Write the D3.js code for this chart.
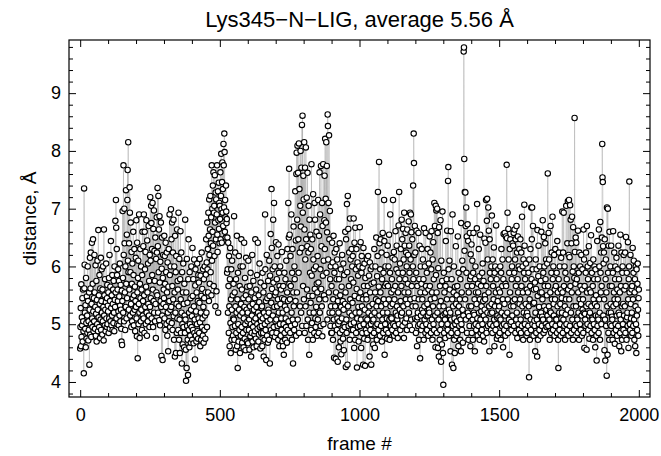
<!DOCTYPE html>
<html><head><meta charset="utf-8">
<script src="https://cdn.jsdelivr.net/npm/d3@7"></script>
<style>body{margin:0;background:#fff;} svg{display:block;} text{font-family:"Liberation Sans",Arial,sans-serif;fill:#000;}</style>
</head><body>
<svg id="chart" width="661" height="456"></svg>
<script>
const titleText = "Lys345\u2212N\u2212LIG, average 5.56 \u00C5";
const xLabel = "frame #";
const yLabel = "distance, \u00C5";
const xTicks = [0, 500, 1000, 1500, 2000];
const yTicks = [4, 5, 6, 7, 8, 9];

// distance (Å) per frame, frames 0-249
const dist0 = [4.58,4.95,5.28,4.62,5.69,4.78,5.12,4.98,5.45,4.70,5.60,5.05,4.88,4.15,7.35,5.62,6.03,5.20,4.92,5.33,4.60,5.80,5.02,4.75,5.48,
5.15,4.85,6.00,5.40,4.72,5.05,4.90,5.55,4.30,5.25,6.15,4.82,5.62,6.24,5.00,4.78,5.35,6.41,5.10,4.95,5.70,6.47,5.22,4.88,5.45,
5.05,6.20,5.55,4.92,5.30,6.02,4.80,5.18,5.75,4.70,5.42,5.00,6.10,5.25,4.88,6.63,5.12,5.50,4.95,5.85,5.35,4.76,5.62,5.08,6.15,
4.90,5.40,5.95,5.20,4.82,5.60,5.05,6.00,5.30,4.72,6.64,5.15,5.50,4.98,5.78,5.25,4.88,5.38,6.05,5.10,4.95,5.45,5.68,5.00,5.32,
5.22,5.55,4.85,5.80,5.10,6.20,4.92,5.40,5.65,5.05,6.44,5.28,4.98,5.50,5.15,5.85,4.90,5.35,5.60,5.02,5.75,5.20,4.88,6.00,5.42,
5.30,6.79,5.55,7.15,6.67,5.10,6.30,5.85,5.00,5.60,5.40,5.95,5.22,4.98,5.75,5.48,5.15,6.05,5.32,5.05,5.68,5.25,4.92,4.70,5.58,
4.64,5.40,6.96,5.80,5.20,7.75,6.20,5.05,7.00,6.40,5.55,4.90,6.00,5.30,7.32,5.70,5.10,6.55,5.45,7.15,7.67,6.10,8.15,5.90,5.25,
6.40,5.60,7.37,6.93,5.15,5.90,6.76,5.35,4.95,6.25,5.70,5.05,6.05,5.45,5.20,6.60,5.85,4.98,5.50,6.30,5.25,5.65,4.88,5.40,6.15,
5.30,6.80,5.10,4.79,6.41,5.55,4.41,5.80,6.10,5.00,5.35,6.90,5.20,4.76,5.70,6.30,5.45,5.05,6.00,5.25,5.60,4.90,5.85,6.60,5.15,
5.40,6.35,5.10,6.90,5.50,4.85,6.60,5.95,5.30,6.25,5.00,5.65,6.80,5.20,4.80,6.45,5.55,5.05,6.05,5.35,6.70,5.15,5.75,4.95,6.20];

// frames 250-499
const dist1 = [5.30,7.20,6.10,5.45,7.05,6.75,5.10,6.30,5.85,7.10,5.60,4.95,6.65,5.40,6.97,5.20,6.27,5.75,5.05,6.50,5.35,4.76,6.13,5.55,6.85,
6.24,5.50,7.36,6.35,5.20,7.22,5.90,6.64,5.07,6.87,5.72,4.98,6.08,5.40,6.76,5.30,4.45,5.96,6.50,5.15,4.38,5.80,6.20,5.35,5.60,
5.45,6.53,5.10,6.18,5.70,4.90,6.41,5.30,5.90,5.00,6.24,5.55,4.80,6.07,5.20,4.53,5.65,6.30,5.05,5.40,6.90,5.85,4.95,5.25,6.00,
6.99,5.30,6.47,5.02,6.76,5.66,4.90,6.24,5.43,6.81,5.14,4.73,6.00,5.55,4.44,6.53,5.20,5.90,4.50,6.18,5.35,4.85,6.64,5.10,5.75,
5.60,4.90,6.93,5.31,4.73,6.13,5.08,4.50,5.78,6.61,5.43,4.85,6.24,5.20,4.32,5.90,5.00,4.65,5.55,6.05,4.95,5.35,4.60,5.70,5.15,
4.85,6.81,5.08,4.56,4.02,5.55,4.24,6.13,4.97,5.37,4.73,4.12,5.78,6.47,4.90,5.20,4.60,5.90,5.00,4.80,5.45,4.68,5.25,6.00,4.95,
5.14,4.73,6.32,5.49,4.90,5.78,4.67,5.31,6.12,4.85,5.08,4.39,5.67,5.95,4.80,5.22,4.70,5.55,5.00,6.05,4.88,5.40,4.75,5.85,5.10,
5.72,4.85,5.37,6.13,5.03,4.62,5.84,5.20,4.73,5.49,6.24,4.95,5.61,5.10,4.80,5.95,5.30,4.68,5.78,5.45,4.90,6.00,5.15,4.75,5.55,
5.86,6.47,5.20,6.07,4.95,6.76,5.95,6.30,5.55,6.93,6.53,5.40,7.16,6.20,5.70,6.64,7.22,5.90,6.40,6.85,5.50,7.75,6.10,7.00,6.60,
7.40,6.36,7.63,5.66,6.93,7.05,6.18,7.58,6.76,5.31,7.28,6.47,7.16,5.57,6.90,7.75,6.55,6.25,7.30,5.20,6.80,7.45,6.65,7.10,6.40];

// frames 500-749
const dist2 = [7.05,6.82,7.63,6.47,7.22,7.95,6.99,6.41,7.46,7.80,6.93,7.34,6.70,8.12,7.75,7.02,8.30,7.98,6.60,7.15,6.85,6.50,7.40,6.95,6.75,
6.82,5.89,6.50,5.95,5.20,6.41,5.66,4.85,6.18,5.31,4.62,5.78,6.32,5.02,4.50,5.43,5.95,4.73,5.25,6.10,4.95,5.50,4.80,5.10,5.70,
5.08,6.87,4.73,5.55,4.97,6.24,5.31,4.56,5.78,4.85,5.20,6.53,4.62,5.43,4.24,5.89,5.00,4.70,6.18,5.25,4.90,5.66,4.50,5.15,6.00,
4.80,5.35,6.47,4.95,5.60,4.68,5.20,6.00,4.85,5.45,4.60,5.10,6.41,5.30,4.75,5.80,5.00,4.55,5.50,6.15,4.90,5.25,4.70,5.65,5.05,
5.20,4.67,6.10,5.43,4.90,5.08,4.56,5.66,5.31,4.79,5.89,5.00,4.44,5.55,4.85,5.15,6.20,4.70,5.35,4.95,5.75,4.60,5.25,5.05,4.82,
5.45,4.88,6.47,5.10,4.75,5.60,5.30,4.62,5.85,5.00,4.92,6.41,5.20,4.70,5.50,4.82,5.38,6.05,4.95,5.15,4.58,5.72,5.05,4.85,5.28,
4.97,5.31,4.62,5.89,5.10,4.85,5.55,4.44,5.20,5.66,4.73,5.00,6.90,5.95,4.90,5.40,4.38,5.14,6.20,4.80,5.45,5.05,4.68,5.75,5.25,
5.20,4.73,6.10,5.49,4.32,5.84,5.08,6.56,4.90,5.37,7.34,6.32,5.61,4.85,5.95,5.15,6.81,5.72,4.95,7.10,5.30,6.00,4.78,5.50,5.05,
5.55,6.42,5.08,4.85,5.78,5.31,6.18,4.97,5.43,4.73,6.38,5.20,5.89,4.62,5.66,5.00,6.00,5.35,4.80,5.60,5.10,4.90,6.25,5.45,4.70,
5.20,4.62,5.66,5.00,4.47,5.43,5.89,4.85,5.31,4.73,5.78,5.10,4.95,6.10,5.25,4.68,5.55,6.30,4.90,5.40,7.10,5.05,6.50,7.69,5.70];

// frames 750-999
const dist3 = [6.55,5.43,4.85,6.18,5.66,4.97,6.90,5.20,4.73,5.89,6.30,5.08,4.32,5.55,6.69,5.31,4.90,6.00,5.78,5.00,7.30,5.40,6.45,4.80,7.60,
7.97,5.55,6.81,8.09,5.08,7.62,6.47,5.89,8.13,4.85,7.34,6.24,5.31,7.05,8.00,6.69,5.20,7.71,6.32,8.45,4.97,8.61,6.93,5.66,7.57,
7.16,5.43,8.15,6.64,4.85,7.71,6.12,5.31,8.06,6.47,4.97,7.19,5.60,6.35,7.62,5.08,4.73,6.24,7.05,5.49,4.47,6.81,5.20,5.89,6.55,
5.37,6.30,4.90,7.77,5.84,5.02,6.47,5.49,4.73,7.25,6.12,5.20,5.95,4.85,7.10,5.61,6.81,5.10,4.95,6.00,5.30,6.60,5.70,4.80,5.55,
6.18,5.08,7.15,5.72,4.85,6.53,5.43,7.63,5.20,6.90,5.95,4.97,7.74,5.61,6.35,5.31,7.10,4.79,6.70,5.84,7.77,5.00,6.10,5.50,6.80,
7.57,6.30,8.21,5.43,7.17,6.76,8.15,5.89,7.74,6.59,5.08,8.63,8.43,6.12,7.10,5.55,8.27,6.47,5.20,6.96,5.78,4.97,6.00,5.31,4.85,
5.66,4.85,6.41,5.20,6.07,4.73,5.43,6.53,5.08,4.42,5.89,6.24,4.97,5.31,6.00,4.40,5.55,6.30,5.78,4.90,6.12,5.10,4.35,5.40,5.00,
5.20,4.60,5.78,5.05,6.40,4.85,5.50,4.70,5.95,5.30,4.48,5.65,5.10,6.20,4.90,5.40,4.75,6.05,5.25,4.55,5.85,5.00,4.95,5.35,6.60,
5.55,4.26,6.47,5.08,4.85,7.08,5.90,4.30,7.22,5.31,6.65,4.97,5.66,6.24,5.20,4.73,6.83,5.43,6.12,5.00,5.78,4.90,6.30,5.15,6.00,
5.37,6.18,4.90,5.72,6.83,5.03,4.59,6.41,5.49,4.73,6.67,5.20,5.95,4.85,6.30,5.61,4.25,5.10,6.07,4.95,5.84,5.30,4.70,5.45,6.00];

// frames 1000-1249
const dist4 = [5.20,6.68,4.97,5.55,6.42,5.08,4.59,5.89,6.18,5.31,4.85,5.98,5.43,4.30,6.32,5.00,5.66,4.75,6.05,5.25,4.28,5.80,5.10,4.90,5.50,
5.43,4.85,6.12,5.08,4.73,5.66,6.18,5.20,4.97,5.84,5.31,4.44,6.07,5.55,4.90,5.95,5.00,4.30,5.70,5.15,4.80,6.00,5.35,5.05,4.65,
5.08,5.72,4.85,6.30,5.20,4.59,5.55,6.00,4.97,5.43,6.50,5.31,4.73,5.83,5.00,6.18,7.29,5.40,4.90,5.65,7.81,5.15,6.40,4.80,5.95,
5.55,6.47,4.97,5.31,6.24,4.70,5.78,5.08,6.58,5.20,4.85,5.89,5.43,7.15,6.44,4.47,5.66,5.00,6.00,5.35,4.90,5.70,6.20,5.10,4.75,
5.20,6.36,5.66,4.85,6.00,5.43,6.55,5.08,4.73,5.89,6.90,5.31,4.97,5.12,5.55,5.10,5.78,4.90,6.15,5.35,7.15,5.00,5.60,6.25,4.80,
5.43,6.12,4.97,5.66,6.61,5.20,4.85,5.95,6.36,5.31,5.08,5.15,4.76,5.55,5.89,6.71,5.00,7.29,5.78,5.25,6.05,4.90,5.40,6.30,5.15,
5.66,6.81,5.20,6.47,4.97,5.89,6.65,5.31,6.12,4.76,6.93,5.55,6.36,5.03,5.78,6.58,5.43,6.24,5.10,6.00,4.90,6.64,5.35,5.70,6.20,
5.55,6.78,5.20,6.36,5.89,4.97,6.93,5.43,6.12,6.90,5.08,6.59,5.66,4.90,6.47,5.31,6.00,7.40,5.78,8.30,7.79,6.20,5.45,6.70,5.10,
6.24,5.31,4.85,5.89,6.62,5.08,4.62,5.66,5.12,5.20,4.97,6.58,5.43,4.73,5.78,6.36,5.00,4.41,5.55,6.00,5.15,4.90,5.70,6.30,5.25,
5.43,4.97,6.12,5.20,5.78,4.73,6.66,5.31,5.08,6.00,5.55,4.85,6.58,5.66,5.00,5.14,5.89,4.90,5.35,6.30,5.15,4.80,5.60,6.05,5.25];

// frames 1250-1499
const dist5 = [5.20,6.52,5.66,4.97,6.24,5.43,4.85,5.95,6.61,5.08,5.55,4.73,6.12,5.31,6.42,5.00,5.78,4.90,7.10,5.45,6.70,5.15,4.60,7.05,5.85,
6.97,5.55,4.85,7.00,5.20,6.58,4.59,5.97,5.08,4.44,6.68,5.31,4.73,5.66,4.90,6.80,5.40,4.35,6.10,5.00,4.65,5.75,6.95,5.15,4.50,
3.95,5.31,5.89,4.85,5.55,5.18,5.08,4.76,5.66,6.44,5.20,4.97,5.78,5.43,6.62,5.00,4.90,7.48,7.72,5.95,5.25,4.80,6.10,5.60,5.15,
5.20,4.53,6.61,5.08,4.85,5.78,4.30,5.43,6.90,4.97,5.31,4.24,5.55,6.00,4.73,5.10,4.50,5.65,5.00,4.90,6.35,5.35,4.80,5.50,5.05,
5.66,4.85,6.52,5.20,4.62,5.89,5.31,4.97,5.12,5.43,4.73,5.78,5.08,4.53,6.75,5.00,5.55,4.90,6.10,5.25,4.68,5.95,5.15,9.72,9.79,
7.86,6.27,7.29,5.43,7.28,6.70,5.08,7.02,5.89,6.52,4.85,5.66,6.73,5.20,6.44,4.73,5.55,5.14,5.31,4.97,6.58,5.78,4.62,6.21,5.83,
5.31,6.38,4.85,5.66,6.10,5.08,4.73,5.89,6.58,5.20,4.97,5.16,5.43,4.53,5.78,6.00,5.00,5.55,4.90,5.35,6.66,7.08,5.10,4.80,5.70,
5.55,4.97,6.30,5.20,5.83,4.73,5.43,6.55,5.08,4.85,5.66,5.22,5.31,4.90,5.89,5.00,6.05,4.80,5.40,5.75,5.15,4.70,6.48,5.25,5.50,
5.43,6.41,5.08,7.15,5.66,4.85,6.79,7.17,5.20,6.12,4.97,7.02,5.55,6.62,5.31,4.53,6.47,5.89,5.00,5.18,5.78,4.90,6.00,5.35,6.88,
5.20,4.85,6.12,5.66,4.97,5.43,6.33,5.08,4.62,5.89,5.31,6.00,4.90,5.55,6.71,5.00,5.78,4.75,5.11,5.15,5.40,4.80,5.95,5.25,5.60];

// frames 1500-1749
const dist6 = [5.31,5.12,4.85,5.55,6.00,5.08,4.73,5.89,6.30,5.20,4.97,5.66,6.12,5.43,4.60,5.78,6.56,5.00,4.90,5.35,6.58,5.15,4.80,5.70,6.52,
5.66,4.97,7.76,6.49,5.20,6.93,5.43,4.85,6.65,6.12,5.08,5.89,4.47,6.30,5.55,6.47,5.00,5.31,5.04,4.90,5.78,6.00,5.15,6.40,5.40,
6.36,5.31,6.58,4.97,5.89,6.64,5.43,6.12,4.85,6.47,5.66,5.08,6.70,5.20,6.24,4.76,5.78,6.52,5.55,5.00,6.00,4.90,6.30,5.35,5.95,
5.43,6.47,5.08,4.85,6.24,5.66,4.97,6.86,5.31,6.00,5.55,4.73,6.12,5.20,5.89,7.07,6.36,5.00,5.78,4.90,5.35,6.05,5.15,4.80,5.60,
5.20,4.85,5.14,5.55,4.97,5.89,5.31,4.08,6.12,5.43,4.73,5.66,6.30,5.08,4.90,7.02,5.78,6.47,7.02,5.00,5.95,6.70,5.35,4.80,5.60,
5.37,5.06,4.97,5.72,4.53,5.20,6.12,5.61,4.85,5.95,5.08,4.44,6.63,5.49,4.73,5.83,6.36,5.00,5.30,4.90,6.00,5.15,5.55,4.80,5.75,
5.20,6.60,5.55,4.97,5.13,5.43,6.80,5.08,5.89,4.85,6.51,5.31,6.00,5.66,4.90,6.40,5.78,5.00,6.12,5.25,4.95,5.50,6.05,5.15,7.61,
5.66,4.97,6.58,5.31,6.12,5.08,4.73,5.22,5.55,6.70,5.20,4.85,5.89,6.24,5.43,5.00,6.86,5.78,4.90,6.00,5.35,5.15,6.20,4.80,5.60,
5.43,6.30,4.97,5.66,5.09,5.08,5.89,4.85,6.44,5.31,5.55,4.73,4.24,5.78,6.24,5.20,4.90,6.00,5.00,5.35,4.80,5.60,6.15,5.10,5.45,
5.20,6.95,5.55,4.85,6.24,5.08,6.93,5.66,4.97,6.00,5.31,4.73,5.89,5.17,5.43,7.05,5.00,5.78,4.90,6.40,5.25,7.13,5.60,4.80,6.20];

// frames 1750-2000
const dist7 = [7.15,5.43,6.16,4.97,7.06,5.66,6.81,5.20,4.85,6.40,5.55,6.86,5.08,5.91,4.73,6.68,5.31,6.00,4.90,5.80,8.57,6.25,5.00,5.70,6.50,
5.31,6.41,4.97,5.78,5.12,5.08,4.85,6.62,5.55,5.20,5.89,4.73,6.24,5.43,5.00,6.00,5.66,4.90,5.35,6.20,5.15,4.80,5.60,5.95,5.25,
5.43,4.85,6.64,5.20,6.12,4.59,5.66,5.18,5.08,4.97,5.89,6.24,5.31,4.56,6.70,5.55,5.00,6.00,5.78,4.90,5.35,6.35,5.15,4.75,5.60,
5.20,6.06,4.97,5.55,6.54,5.31,4.85,5.89,5.11,5.08,5.66,4.73,6.12,5.43,5.00,5.78,6.00,4.90,5.35,4.60,5.95,5.15,5.50,4.80,4.37,
5.31,6.44,4.97,5.78,5.14,5.08,4.85,6.64,5.43,6.00,5.20,4.73,6.77,5.89,5.55,6.24,5.00,5.66,6.50,8.12,7.54,7.46,6.35,5.15,6.05,
6.24,5.43,4.55,6.47,5.08,4.37,5.78,6.12,4.97,5.55,4.11,7.02,5.31,4.47,7.00,5.89,4.85,6.36,5.20,4.73,6.60,5.66,5.00,6.00,5.35,
5.20,6.36,4.97,5.66,5.13,5.08,4.73,5.89,6.61,5.31,4.85,5.55,6.24,5.43,4.66,5.78,6.00,5.00,4.90,5.35,6.15,5.15,4.80,5.60,5.95,
5.43,4.97,6.36,5.20,5.78,4.62,5.16,5.55,4.85,6.55,5.08,5.66,4.53,6.24,5.31,4.73,5.89,6.00,5.00,5.35,4.90,6.20,5.15,5.60,4.80,
5.31,6.24,4.85,5.66,6.51,5.08,4.73,5.89,5.12,5.20,4.97,6.42,5.43,4.59,5.78,6.00,7.47,5.55,5.00,4.90,6.20,5.35,5.10,4.80,5.60,
5.20,5.66,4.85,6.32,5.43,4.97,5.89,6.10,5.08,4.73,5.55,5.78,4.62,5.31,6.00,5.00,4.50,5.95,5.15,4.90,5.70,6.05,5.25,4.80,5.45,5.60];

const distance = [].concat(dist0, dist1, dist2, dist3, dist4, dist5, dist6, dist7);
const data = distance.map((v, i) => ({frame: i, value: v}));

const W = 661, H = 456;
const m = {left: 69, right: 11, top: 40, bottom: 59};
const pw = W - m.left - m.right, ph = H - m.top - m.bottom;

const svg = d3.select("#chart");
const x = d3.scaleLinear().domain([-40, 2040]).range([m.left, m.left + pw]);
const y = d3.scaleLinear().domain([3.74, 9.92]).range([m.top + ph, m.top]);

const xMinor = d3.range(100, 2040, 100).filter(v => v % 500 !== 0);
const yMinor = d3.range(3.8, 9.95, 0.2).filter(v => Math.abs(v - Math.round(v)) > 1e-6);

svg.append("defs").append("clipPath").attr("id", "clip")
  .append("rect").attr("x", m.left).attr("y", m.top).attr("width", pw).attr("height", ph);

const g = svg.append("g").attr("clip-path", "url(#clip)");
g.append("path").datum(data)
  .attr("fill", "none").attr("stroke", "#a0a0a0").attr("stroke-width", 0.45)
  .attr("d", d3.line().x(d => x(d.frame)).y(d => y(d.value)));
g.selectAll("circle").data(data).join("circle")
  .attr("cx", d => x(d.frame)).attr("cy", d => y(d.value)).attr("r", 2.7)
  .attr("fill", "#fff").attr("stroke", "#000").attr("stroke-width", 1.1);

function styleAxis(sel) {
  sel.select(".domain").remove();
  sel.selectAll("line").attr("stroke", "#000").attr("stroke-width", 1);
  sel.selectAll("text").attr("font-size", 18).attr("font-family", "Liberation Sans, Arial, sans-serif");
}
// bottom
svg.append("g").attr("transform", `translate(0,${m.top + ph})`)
  .call(d3.axisBottom(x).tickValues(xTicks).tickSize(-7).tickPadding(11).tickFormat(d3.format("d"))).call(styleAxis);
svg.append("g").attr("transform", `translate(0,${m.top + ph})`)
  .call(d3.axisBottom(x).tickValues(xMinor).tickSize(-4).tickFormat("")).call(styleAxis);
// top
svg.append("g").attr("transform", `translate(0,${m.top})`)
  .call(d3.axisTop(x).tickValues(xTicks).tickSize(-7).tickFormat("")).call(styleAxis);
svg.append("g").attr("transform", `translate(0,${m.top})`)
  .call(d3.axisTop(x).tickValues(xMinor).tickSize(-4).tickFormat("")).call(styleAxis);
// left
svg.append("g").attr("transform", `translate(${m.left},0)`)
  .call(d3.axisLeft(y).tickValues(yTicks).tickSize(-7).tickPadding(8).tickFormat(d3.format("d"))).call(styleAxis);
svg.append("g").attr("transform", `translate(${m.left},0)`)
  .call(d3.axisLeft(y).tickValues(yMinor).tickSize(-4).tickFormat("")).call(styleAxis);
// right
svg.append("g").attr("transform", `translate(${m.left + pw},0)`)
  .call(d3.axisRight(y).tickValues(yTicks).tickSize(-7).tickFormat("")).call(styleAxis);
svg.append("g").attr("transform", `translate(${m.left + pw},0)`)
  .call(d3.axisRight(y).tickValues(yMinor).tickSize(-4).tickFormat("")).call(styleAxis);

svg.append("rect").attr("x", m.left).attr("y", m.top).attr("width", pw).attr("height", ph)
  .attr("fill", "none").attr("stroke", "#000").attr("stroke-width", 1.2);

svg.append("text").attr("x", m.left + pw / 2).attr("y", 27).attr("text-anchor", "middle")
  .attr("font-size", 22).text(titleText);
svg.append("text").attr("x", m.left + pw / 2).attr("y", 450).attr("text-anchor", "middle")
  .attr("font-size", 19).text(xLabel);
svg.append("text").attr("transform", `translate(36,${m.top + ph / 2}) rotate(-90)`).attr("text-anchor", "middle")
  .attr("font-size", 19).text(yLabel);
</script>
</body></html>
